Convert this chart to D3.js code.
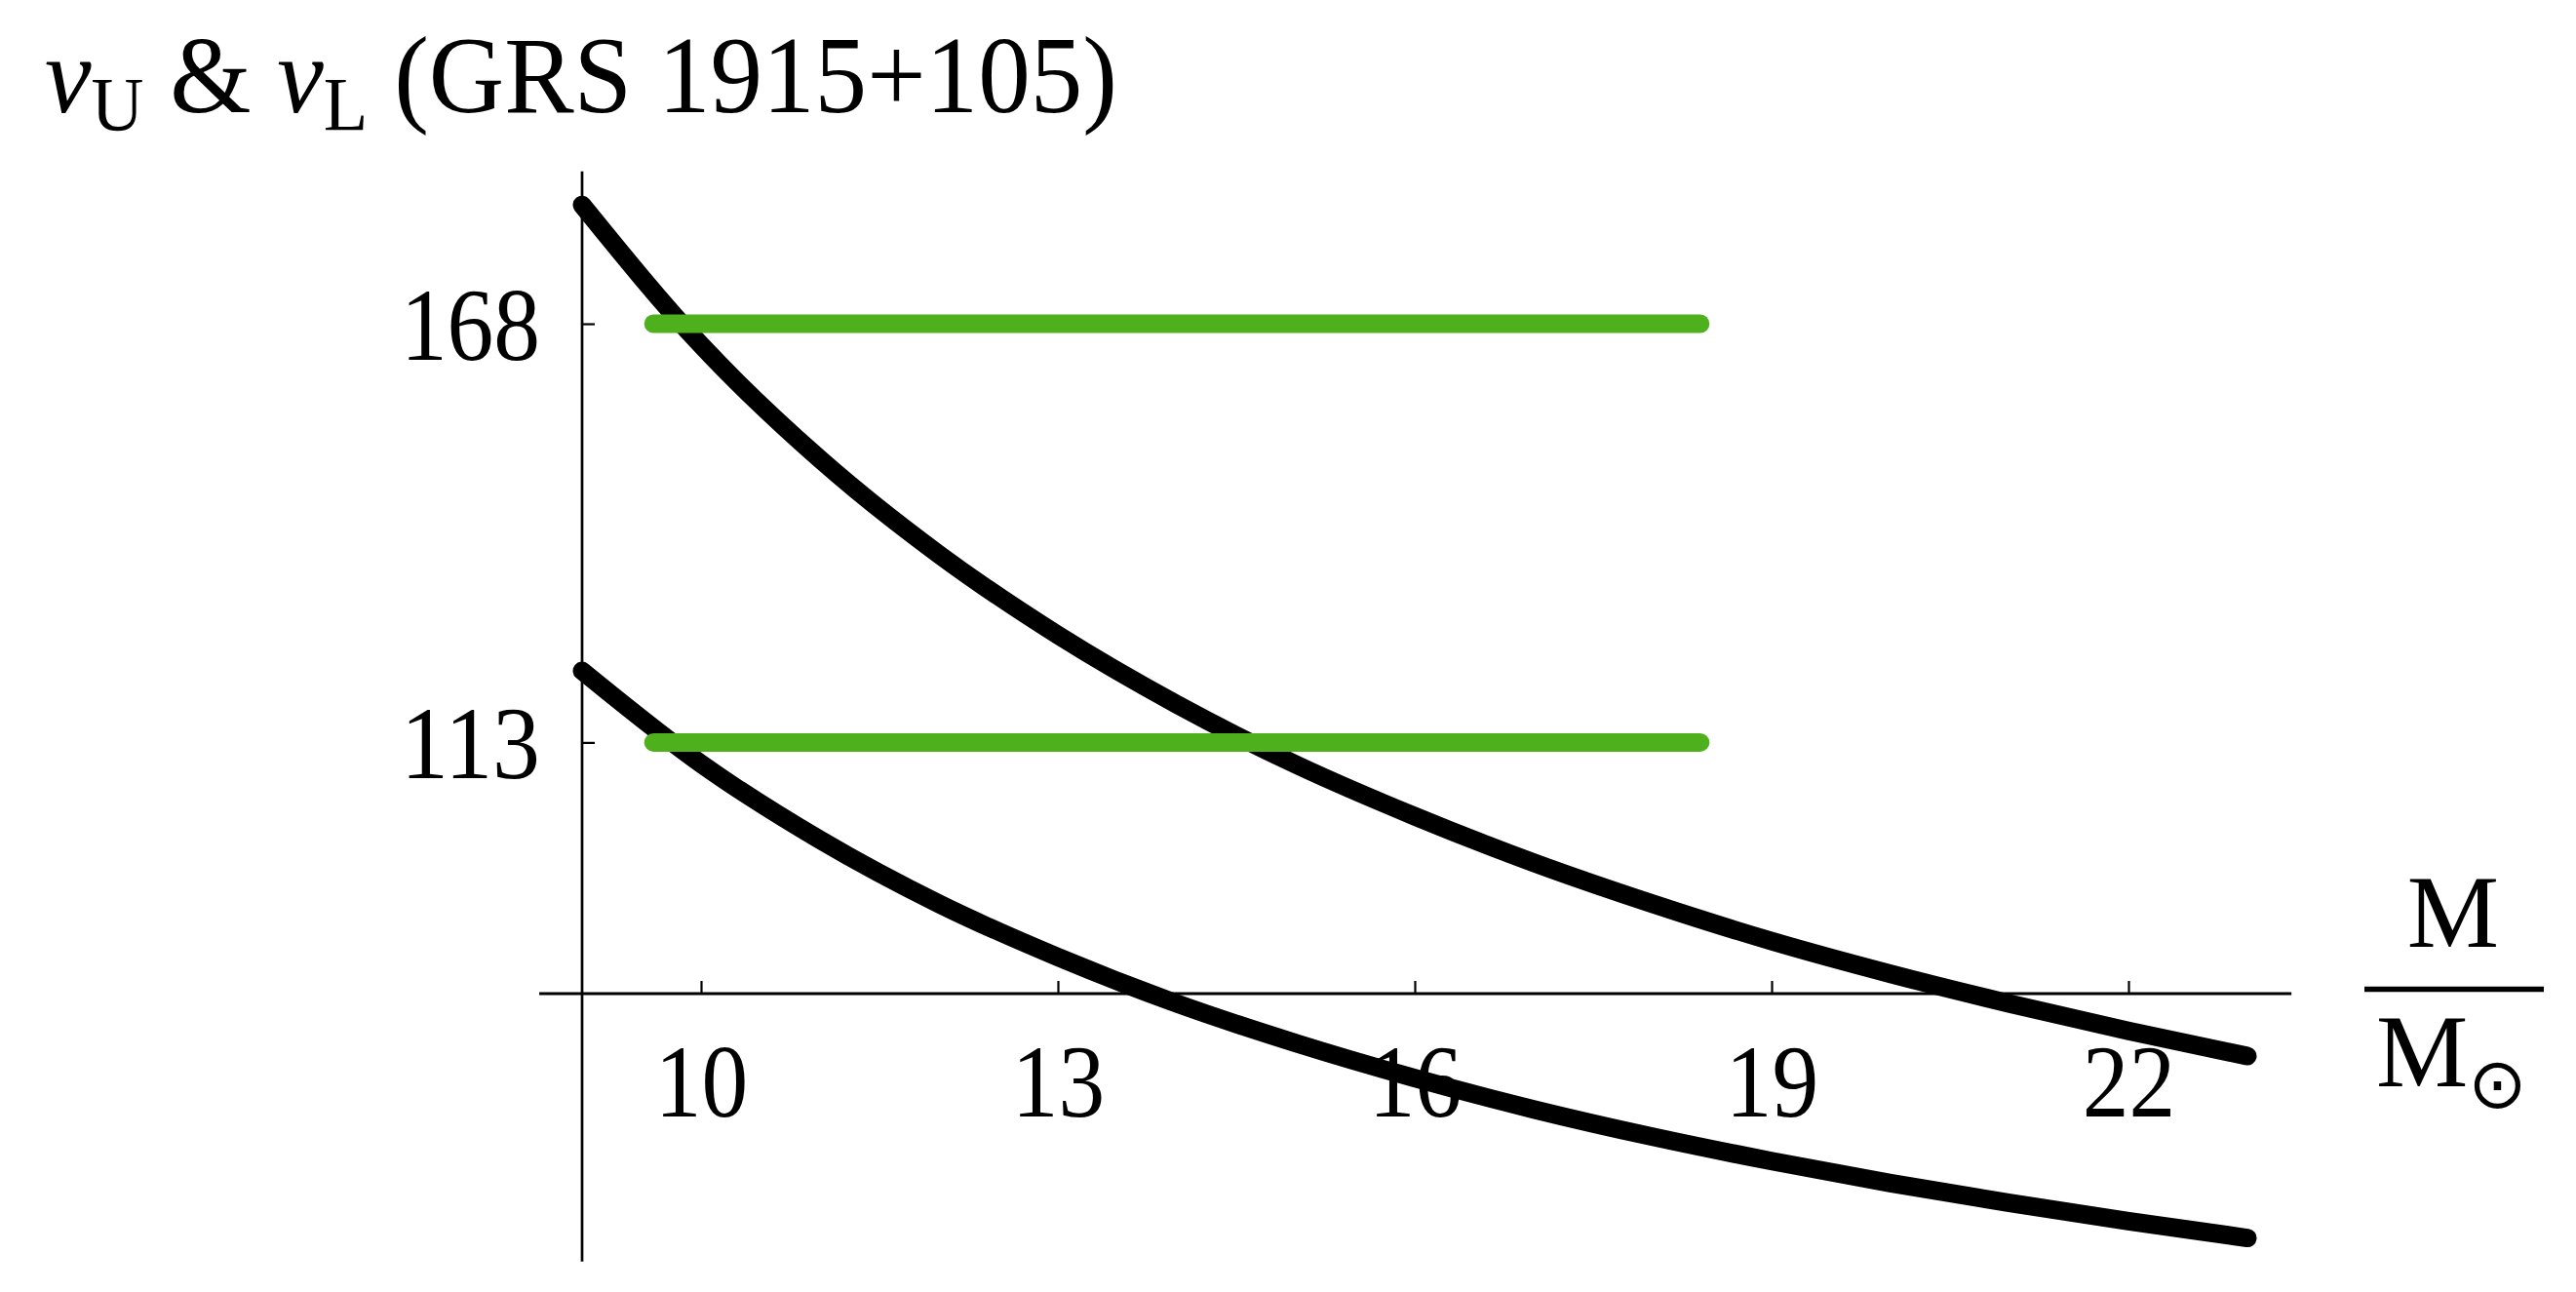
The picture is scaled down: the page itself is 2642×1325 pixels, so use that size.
<!DOCTYPE html>
<meta charset="utf-8">
<style>
body { margin: 0; background: #fff; }
text { font-family: "Liberation Serif", "Times New Roman", serif; fill: #000; }
.curve { fill: none; stroke: #000; stroke-width: 19px; stroke-linecap: round; stroke-linejoin: round; }
.band { stroke: #4fb01e; stroke-width: 19px; stroke-linecap: round; }
.ticks line { stroke: #000; stroke-width: 2.2px; }
</style>
<svg width="2642" height="1325"></svg>
<script src="https://cdn.jsdelivr.net/npm/d3@7/dist/d3.min.js"></script>
<script>

var mass = [9, 10, 11, 12, 13, 14, 15, 16, 17, 18, 19, 20, 21, 22, 23];
// upper and lower QPO frequency curves (Hz)
var nuUpper = [183.6, 165.2, 150.2, 137.7, 127.1, 118.0, 110.1, 103.3, 97.2, 91.8, 86.9, 82.6, 78.7, 75.1, 71.8];
var nuLower = [122.4, 110.2, 100.2, 91.8, 84.8, 78.7, 73.5, 68.9, 64.8, 61.2, 58.0, 55.1, 52.5, 50.1, 47.9];
// observed frequencies and the mass interval they are drawn over
var observed = [168, 113];
var massRange = [9.6, 18.4];
var xTicks = [10, 13, 16, 19, 22];
var yTicks = [113, 168];

var svg = d3.select("svg");

var x = d3.scaleLinear().domain([9, 23]).range([597, 2305]);
var y = d3.scaleLinear().domain([80, 168]).range([1019, 332]);

// axes lines (Mathematica style, crossing at (9, 80))
svg.append("line")
    .attr("x1", x(8.64)).attr("x2", x(23.37))
    .attr("y1", y(80)).attr("y2", y(80))
    .attr("stroke", "#000").attr("stroke-width", 3);
svg.append("line")
    .attr("x1", x(9)).attr("x2", x(9))
    .attr("y1", y(188)).attr("y2", y(44.8))
    .attr("stroke", "#000").attr("stroke-width", 2.7);

var xAxis = svg.append("g")
    .attr("class", "ticks")
    .attr("transform", "translate(0," + y(80) + ")")
    .call(d3.axisBottom(x).tickValues(xTicks).tickSizeInner(-13).tickSizeOuter(0));
xAxis.select(".domain").remove();
xAxis.attr("font-size", 106).attr("font-family", null);
xAxis.selectAll("text").attr("y", 126).attr("dy", "0");

var yAxis = svg.append("g")
    .attr("class", "ticks")
    .attr("transform", "translate(" + x(9) + ",0)")
    .call(d3.axisLeft(y).tickValues(yTicks).tickSizeInner(-13).tickSizeOuter(0).tickPadding(43));
yAxis.select(".domain").remove();
yAxis.attr("font-size", 106).attr("font-family", null);
yAxis.selectAll("text").attr("dy", "0.34em");

// squeeze the digits a little, the original font is narrower
svg.selectAll(".ticks text").each(function() {
  var t = d3.select(this);
  t.attr("textLength", 47.7 * t.text().length).attr("lengthAdjust", "spacingAndGlyphs");
});

var line = d3.line()
    .x(function(d) { return x(d[0]); })
    .y(function(d) { return y(d[1]); })
    .curve(d3.curveMonotoneX);

svg.append("path").attr("class", "curve").attr("d", line(d3.zip(mass, nuUpper)));
svg.append("path").attr("class", "curve").attr("d", line(d3.zip(mass, nuLower)));

svg.selectAll(".band")
    .data(observed)
    .enter().append("line")
    .attr("class", "band")
    .attr("x1", x(massRange[0])).attr("x2", x(massRange[1]))
    .attr("y1", function(d) { return y(d); })
    .attr("y2", function(d) { return y(d); });

// title
var title = svg.append("text")
    .attr("font-size", 112);
title.append("tspan").attr("font-style", "italic").text("ν");
title.append("tspan").attr("font-size", 78).attr("dy", 18).text("U");
title.append("tspan").attr("dy", -18).text(" & ");
title.append("tspan").attr("font-style", "italic").text("ν");
title.append("tspan").attr("font-size", 78).attr("dy", 18).text("L");
title.append("tspan").attr("dy", -18).text(" (GRS 1915+105)");
var tw = title.node().getComputedTextLength();
title.attr("transform", "translate(46,115) scale(" + (1100 / tw) + ",1)");

// x label  M / M_sun
svg.append("text")
    .attr("x", 2516).attr("y", 971)
    .attr("text-anchor", "middle")
    .attr("font-size", 106)
    .text("M");
svg.append("line")
    .attr("x1", 2425).attr("x2", 2609)
    .attr("y1", 1014.5).attr("y2", 1014.5)
    .attr("stroke", "#000").attr("stroke-width", 5.6);
var msun = svg.append("text")
    .attr("x", 2437).attr("y", 1114)
    .attr("font-size", 106);
msun.append("tspan").text("M");
msun.append("tspan")
    .attr("font-family", "DejaVu Sans")
    .attr("font-size", 72)
    .attr("dy", 22)
    .text("⊙");

</script>
